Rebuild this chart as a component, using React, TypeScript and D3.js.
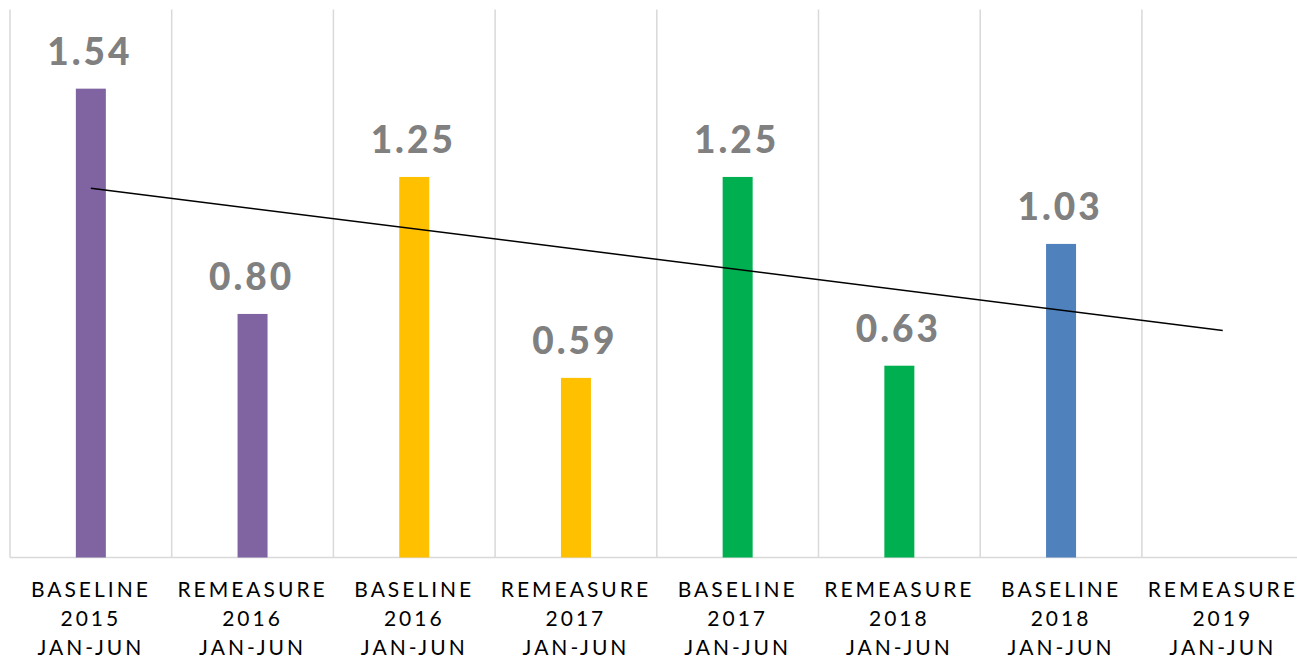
import React from "react";
import * as d3 from "d3";

const categories = [
  ["BASELINE", "2015", "JAN-JUN"],
  ["REMEASURE", "2016", "JAN-JUN"],
  ["BASELINE", "2016", "JAN-JUN"],
  ["REMEASURE", "2017", "JAN-JUN"],
  ["BASELINE", "2017", "JAN-JUN"],
  ["REMEASURE", "2018", "JAN-JUN"],
  ["BASELINE", "2018", "JAN-JUN"],
  ["REMEASURE", "2019", "JAN-JUN"],
];
const values: (number | null)[] = [1.54, 0.8, 1.25, 0.59, 1.25, 0.63, 1.03, null];
const barColors = ["#8064A2", "#8064A2", "#FFC000", "#FFC000", "#00B050", "#00B050", "#4F81BD", "#4F81BD"];
const yDomain = [0, 1.8];

const W = 1297;
const H = 658;
const left = 10;
const step = 161.7;
const bottom = 557.5;
const top = 9.5;
const barW = 30;

export default function App() {
  const keys = categories.map((c, i) => String(i));
  const x = d3.scaleBand().domain(keys).range([left, left + step * keys.length]).padding(0);
  const y = d3.scaleLinear().domain(yDomain).range([bottom, top]);
  const cx = (i: number) => (x(String(i)) as number) + x.bandwidth() / 2;

  // linear trendline over existing values, extended to all categories
  const pts = values.map((v, i) => [i + 1, v] as [number, number | null]).filter((p) => p[1] != null) as [number, number][];
  const mx = d3.mean(pts, (p) => p[0]) as number;
  const my = d3.mean(pts, (p) => p[1]) as number;
  const slope = d3.sum(pts, (p) => (p[0] - mx) * (p[1] - my)) / d3.sum(pts, (p) => (p[0] - mx) ** 2);
  const intercept = my - slope * mx;
  const x1 = 1, x2 = categories.length;
  const line = d3.line<[number, number]>().x((d) => cx(d[0] - 1)).y((d) => y(d[1]));
  const trend = line([
    [x1, intercept + slope * x1],
    [x2, intercept + slope * x2],
  ]) as string;

  const gridXs = keys.map((k) => x(k) as number);

  return (
    <svg width={W} height={H} style={{ position: "absolute", left: 0, top: 0, background: "#fff" }}>
      {gridXs.map((gx, i) => (
        <line key={i} x1={gx} x2={gx} y1={top} y2={bottom} stroke="#D9D9D9" strokeWidth={1.5} />
      ))}
      <line x1={left} x2={W} y1={bottom} y2={bottom} stroke="#D9D9D9" strokeWidth={1.5} />
      {values.map((v, i) =>
        v == null ? null : (
          <rect key={i} x={cx(i) - barW / 2} y={y(v)} width={barW} height={y(0) - y(v)} fill={barColors[i]} />
        )
      )}
      <path d={trend} stroke="#000" strokeWidth={1.5} fill="none" />
      {values.map((v, i) =>
        v == null ? null : (
          <text
            key={i}
            x={cx(i) - 1}
            y={y(v) - 24}
            textAnchor="middle"
            fontFamily="Lato, 'Open Sans', sans-serif"
            fontWeight={900}
            fontSize={37}
            letterSpacing={3}
            fill="#808080"
          >
            {v.toFixed(2)}
          </text>
        )
      )}
      {categories.map((c, i) => (
        <text key={i} textAnchor="middle" fontFamily="Lato, 'Open Sans', sans-serif" fontSize={21} letterSpacing={3} fill="#000">
          {c.map((s, j) => (
            <tspan key={j} x={cx(i)} y={597 + j * 29}>
              {s}
            </tspan>
          ))}
        </text>
      ))}
    </svg>
  );
}
